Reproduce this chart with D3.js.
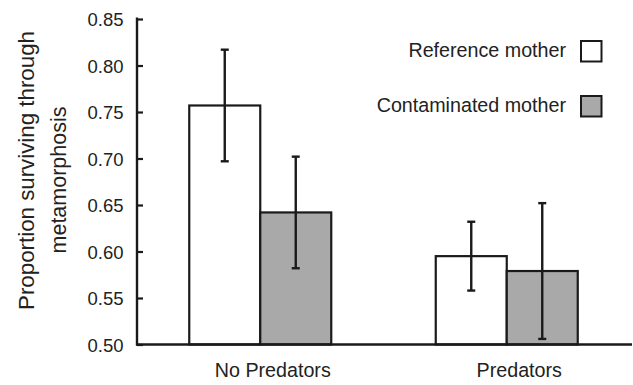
<!DOCTYPE html>
<html>
<head>
<meta charset="utf-8">
<script src="https://cdn.jsdelivr.net/npm/d3@7"></script>
<style>
  body { margin: 0; background: #fff; }
  svg { display: block; font-family: "Liberation Sans", Arial, Helvetica, sans-serif; }
</style>
</head>
<body>
<div id="chart"></div>
<script>
// data
const categories = ['No Predators', 'Predators'];
const series = ['Reference mother', 'Contaminated mother'];
const referenceMeans = [0.757, 0.595];
const referenceErr = [0.060, 0.037];
const contaminatedMeans = [0.642, 0.579];
const contaminatedErr = [0.060, 0.073];
const yTicks = [0.50, 0.55, 0.60, 0.65, 0.70, 0.75, 0.80, 0.85];
const fills = ['#ffffff', '#a9a9a9'];

const width = 633, height = 385;
const margin = {top: 19, right: 3, bottom: 40.5, left: 137};

const svg = d3.select('#chart').append('svg')
    .attr('width', width)
    .attr('height', height);

const y = d3.scaleLinear()
    .domain([0.50, 0.85])
    .range([height - margin.bottom, margin.top]);

const x = d3.scaleBand()
    .domain(categories)
    .range([margin.left, width - margin.right]);

// two bars side by side in the middle of each band
const xSub = d3.scaleBand()
    .domain(series)
    .range([0, x.bandwidth()])
    .paddingOuter(0.736);

const rows = [];
categories.forEach((c, i) => {
    rows.push({cat: c, s: series[0], v: referenceMeans[i], e: referenceErr[i], fill: fills[0]});
    rows.push({cat: c, s: series[1], v: contaminatedMeans[i], e: contaminatedErr[i], fill: fills[1]});
});

// bars
svg.append('g').selectAll('rect')
    .data(rows)
    .enter()
    .append('rect')
    .attr('x', d => x(d.cat) + xSub(d.s))
    .attr('y', d => y(d.v))
    .attr('width', xSub.bandwidth())
    .attr('height', d => y(0.50) - y(d.v))
    .attr('fill', d => d.fill)
    .attr('stroke', '#1a1a1a')
    .attr('stroke-width', 2.2);

// error bars
const err = svg.append('g')
    .attr('stroke', '#1a1a1a')
    .attr('stroke-width', 2.4);
rows.forEach(d => {
    const cx = x(d.cat) + xSub(d.s) + xSub.bandwidth() / 2;
    err.append('line')
        .attr('x1', cx).attr('x2', cx)
        .attr('y1', y(d.v + d.e)).attr('y2', y(d.v - d.e));
    [d.v + d.e, d.v - d.e].forEach(v => {
        err.append('line')
            .attr('x1', cx - 4).attr('x2', cx + 4)
            .attr('y1', y(v)).attr('y2', y(v));
    });
});

// y axis, ticks point inward
const yAxis = svg.append('g')
    .attr('transform', `translate(${margin.left},0)`)
    .call(d3.axisRight(y).tickValues(yTicks).tickSize(6).tickFormat(d3.format('.2f')));
yAxis.select('.domain').remove();
yAxis.selectAll('.tick line')
    .attr('stroke', '#1a1a1a')
    .attr('stroke-width', 2.2);
yAxis.selectAll('.tick text')
    .attr('x', -13.5)
    .attr('dy', '0.36em')
    .attr('text-anchor', 'end')
    .attr('fill', '#222')
    .style('font-size', '18.5px');

svg.append('line')
    .attr('x1', margin.left).attr('x2', margin.left)
    .attr('y1', y(0.85) - 1.5).attr('y2', y(0.50) + 1)
    .attr('stroke', '#1a1a1a')
    .attr('stroke-width', 2.4);

// x axis baseline
svg.append('line')
    .attr('x1', margin.left - 1).attr('x2', width - 1)
    .attr('y1', y(0.50)).attr('y2', y(0.50))
    .attr('stroke', '#1a1a1a')
    .attr('stroke-width', 2.4);

// category labels
svg.append('g').selectAll('text')
    .data(categories)
    .enter()
    .append('text')
    .attr('x', d => x(d) + x.bandwidth() / 2 + 12.5)
    .attr('y', 377)
    .attr('text-anchor', 'middle')
    .attr('fill', '#222')
    .style('font-size', '19.7px')
    .text(d => d);

// y title
const yTitle = [
    {text: 'Proportion surviving through', x: 33.5, c: 170.5, size: 22.3},
    {text: 'metamorphosis', x: 65.5, c: 180, size: 21.5}
];
svg.append('g').selectAll('text')
    .data(yTitle)
    .enter()
    .append('text')
    .attr('transform', d => `translate(${d.x},${d.c}) rotate(-90)`)
    .attr('text-anchor', 'middle')
    .attr('fill', '#222')
    .style('font-size', d => d.size + 'px')
    .text(d => d.text);

// legend
const legend = svg.append('g').selectAll('g')
    .data(series)
    .enter()
    .append('g')
    .attr('transform', (d, i) => `translate(0,${i * 55})`);
legend.append('text')
    .attr('x', 566)
    .attr('y', 57)
    .attr('text-anchor', 'end')
    .attr('fill', '#222')
    .style('font-size', '19.7px')
    .text(d => d);
legend.append('rect')
    .attr('x', 581)
    .attr('y', 41)
    .attr('width', 20.5)
    .attr('height', 20.5)
    .attr('fill', (d, i) => fills[i])
    .attr('stroke', '#1a1a1a')
    .attr('stroke-width', 2);
</script>
</body>
</html>
